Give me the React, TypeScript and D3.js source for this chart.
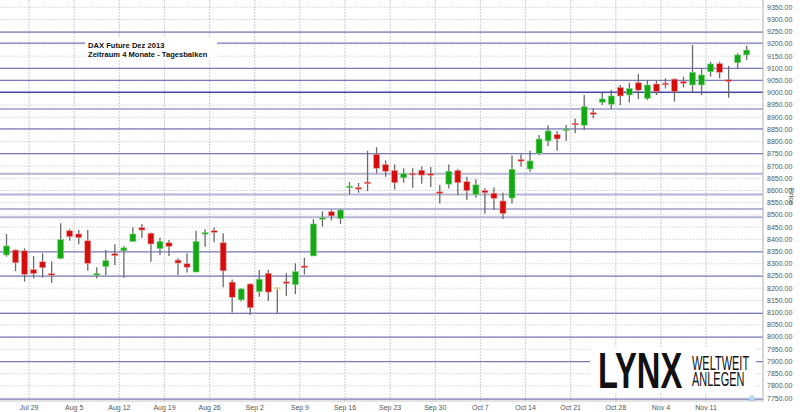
import React from 'react';
import * as d3 from 'd3';

// DAX future, daily bars, 24 Jul - 15 Nov 2013
const opens = [
  8336, 8356, 8353, 8276, 8308, 8259, 8321, 8435, 8422, 8394,
  8254, 8288, 8341, 8353, 8391, 8448, 8425, 8362, 8386, 8315,
  8300, 8266, 8422, 8434, 8386, 8225, 8152, 8217, 8186, 8261,
  8200, 8225, 8214, 8291, 8332, 8483, 8513, 8485, 8612, 8612,
  8634, 8748, 8706, 8682, 8652, 8669, 8683, 8669, 8593, 8626,
  8682, 8636, 8583, 8600, 8589, 8557, 8569, 8727, 8688, 8752,
  8803, 8830, 8846, 8875, 8867, 8918, 8961, 8953, 9022, 8991,
  9041, 8977, 9036, 9039, 9056, 9045, 9032, 9032, 9086, 9119,
  9052, 9123, 9155,
];
const highs = [
  8422, 8359, 8363, 8332, 8343, 8310, 8466, 8441, 8438, 8438,
  8286, 8356, 8380, 8373, 8450, 8463, 8428, 8407, 8397, 8323,
  8343, 8435, 8441, 8448, 8425, 8236, 8201, 8220, 8274, 8274,
  8204, 8261, 8302, 8325, 8483, 8515, 8521, 8524, 8634, 8631,
  8762, 8777, 8723, 8706, 8691, 8691, 8698, 8696, 8624, 8706,
  8688, 8656, 8646, 8609, 8612, 8591, 8743, 8748, 8763, 8827,
  8867, 8844, 8868, 8895, 8991, 8937, 9000, 9011, 9032, 9041,
  9077, 9052, 9052, 9059, 9059, 9066, 9196, 9100, 9127, 9127,
  9110, 9162, 9193,
];
const lows = [
  8329, 8270, 8227, 8240, 8243, 8222, 8318, 8394, 8380, 8271,
  8240, 8254, 8295, 8243, 8391, 8407, 8308, 8335, 8332, 8253,
  8264, 8266, 8370, 8388, 8204, 8100, 8145, 8090, 8165, 8148,
  8098, 8168, 8176, 8256, 8332, 8452, 8477, 8463, 8583, 8591,
  8598, 8670, 8656, 8604, 8632, 8611, 8628, 8614, 8547, 8608,
  8581, 8561, 8570, 8506, 8520, 8483, 8547, 8697, 8677, 8745,
  8782, 8763, 8804, 8834, 8848, 8896, 8950, 8933, 8950, 8960,
  8974, 8970, 8991, 9018, 8964, 9022, 9000, 8991, 9066, 9059,
  8980, 9100, 9134,
];
const closes = [
  8373, 8304, 8257, 8260, 8284, 8254, 8400, 8411, 8407, 8302,
  8259, 8313, 8333, 8365, 8422, 8438, 8381, 8392, 8371, 8303,
  8286, 8392, 8427, 8430, 8271, 8163, 8197, 8120, 8237, 8184,
  8200, 8220, 8268, 8284, 8463, 8488, 8496, 8520, 8617, 8606,
  8628, 8691, 8679, 8632, 8669, 8665, 8663, 8663, 8589, 8679,
  8632, 8600, 8623, 8591, 8568, 8506, 8687, 8720, 8721, 8811,
  8844, 8811, 8850, 8869, 8943, 8912, 8975, 8987, 8987, 9018,
  9011, 9032, 9005, 9033, 9004, 9040, 9084, 9073, 9118, 9084,
  9048, 9155, 9175,
];

const tickLabels = [
  'Jul 29', 'Aug 5', 'Aug 12', 'Aug 19', 'Aug 26', 'Sep 2', 'Sep 9', 'Sep 16',
  'Sep 23', 'Sep 30', 'Oct 7', 'Oct 14', 'Oct 21', 'Oct 28', 'Nov 4', 'Nov 11',
];

// drawn support / resistance lines
const levels = [9248, 9203, 9100, 9051, 8852, 8751, 8349, 8249, 8097, 8000, 7899, 7746];
const majorLevels = [9002];
const weakLevels = [8934, 8669, 8584, 8524, 8490];

const title = ['DAX Future Dez 2013', 'Zeitraum 4 Monate - Tagesbalken'];

const W = 800;
const H = 412;
const plotRight = 763;
const plotBottom = 401;

const dates = d3
  .timeDay.range(new Date(2013, 6, 24), new Date(2013, 10, 16))
  .filter((d) => d.getDay() !== 0 && d.getDay() !== 6);
const fmtDay = d3.timeFormat('%b %-d');
const fmtPrice = d3.format('.2f');

const App: React.FC = () => {
  const idx = d3.range(opens.length);
  const x = d3.scaleBand<number>().domain(idx).range([2, 751.2]);
  const y = d3.scaleLinear().domain([7750, 9350]).range([398.1, 7.3]);
  const yTicks = d3.range(7750, 9351, 50);
  const bw = 6;

  const tickX = tickLabels.map((t) => {
    const i = dates.findIndex((d) => fmtDay(d) === t);
    return x(i) as number;
  });

  const green = '#14a814';
  const red = '#d40d0d';

  return (
    <svg width={W} height={H} style={{ position: 'absolute', left: 0, top: 0, background: '#fff' }}
      fontFamily="'Liberation Sans', Arial, sans-serif">
      <rect x={0} y={0} width={W} height={H} fill="#fff" />

      {/* horizontal dotted grid */}
      {yTicks.map((v) => (
        <line key={'hg' + v} x1={0} x2={plotRight} y1={y(v)} y2={y(v)}
          stroke="#d2d2d2" strokeWidth={1} strokeDasharray="1.5,1.5" />
      ))}
      {/* vertical dotted grid */}
      {tickX.map((tx, i) => (
        <line key={'vg' + i} x1={tx} x2={tx} y1={0} y2={plotBottom}
          stroke="#d4d4d4" strokeWidth={1.2} strokeDasharray="2,1" />
      ))}

      {/* support / resistance */}
      {weakLevels.map((v) => (
        <line key={'wl' + v} x1={0} x2={plotRight} y1={y(v)} y2={y(v)}
          stroke="#b4b4d4" strokeWidth={2} />
      ))}
      {levels.map((v) => (
        <line key={'lv' + v} x1={0} x2={plotRight} y1={y(v)} y2={y(v)}
          stroke="#7a7ab8" strokeWidth={1.2} />
      ))}
      {majorLevels.map((v) => (
        <line key={'ml' + v} x1={0} x2={plotRight} y1={y(v)} y2={y(v)}
          stroke="#4848a8" strokeWidth={1.6} />
      ))}

      {/* candles */}
      {idx.map((i) => {
        const cx = (x(i) as number) + x.bandwidth() / 2;
        const o = opens[i];
        const c = closes[i];
        const top = y(Math.max(o, c));
        const bot = y(Math.min(o, c));
        const h = Math.max(bot - top, 1.6);
        const fill = c > o ? green : c < o ? red : '#d6d68a';
        const edge = c > o ? '#8ad88a' : c < o ? '#ee9a9a' : '#e6e6b0';
        return (
          <g key={'c' + i}>
            <line x1={cx} x2={cx} y1={y(highs[i])} y2={y(lows[i])} stroke="#6a6a6a" strokeWidth={1.3} />
            <rect x={cx - bw / 2} y={top - (h - (bot - top)) / 2} width={bw} height={h}
              fill={fill} stroke={edge} strokeWidth={0.6} />
          </g>
        );
      })}

      {/* axes */}
      <line x1={plotRight} x2={plotRight} y1={0} y2={plotBottom} stroke="#b0b0b0" />
      <line x1={0} x2={plotRight} y1={plotBottom} y2={plotBottom} stroke="#c8c8c8" />
      {yTicks.map((v) => (
        <text key={'yt' + v} x={767} y={y(v)} dy="0.35em" fontSize={7} fill="#555">
          {fmtPrice(v)}
        </text>
      ))}
      {tickLabels.map((t, i) => (
        <text key={'xt' + t} x={tickX[i]} y={410} textAnchor="middle" fontSize={7} fill="#555">
          {t}
        </text>
      ))}
      <text transform="translate(789,188) rotate(90)" fontSize={7.5} fill="#555">Price</text>
      <path d={`M${748},${400} L${752},${395.5} L${756},${400} Z`} fill="#cfe0f6" stroke="#7fa6dc" strokeWidth={0.8} />

      {/* title box */}
      <rect x={85} y={37} width={132} height={23} fill="#fff" />
      {title.map((t, i) => (
        <text key={'ti' + i} x={88} y={47.5 + i * 9.5} fontSize={7.6} fontWeight="bold" fill="#111">
          {t}
        </text>
      ))}

      {/* logo */}
      <rect x={590} y={348} width={166} height={44} fill="#fff" />
      <g transform="translate(598,388) scale(0.654,1)">
        <text x={0} y={0} fontSize={50} fontWeight="bold" fill="#111">LYNX</text>
      </g>
      <g transform="translate(692,370) scale(0.563,1)">
        <text x={0} y={0} fontSize={19.5} fill="#111">
          <tspan x={0} dy={0}>WELTWEIT</tspan>
          <tspan x={0} dy={15.5}>ANLEGEN</tspan>
        </text>
      </g>
    </svg>
  );
};

export default App;
